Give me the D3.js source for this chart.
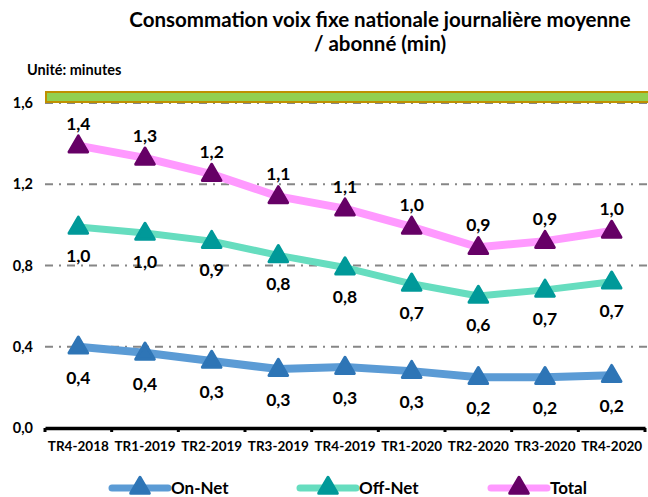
<!DOCTYPE html>
<html><head><meta charset="utf-8">
<script src="https://cdn.jsdelivr.net/npm/d3@7"></script>
<style>body{margin:0;background:#fff}svg{display:block}text{font-family:Lato,"Open Sans",sans-serif;font-weight:bold;fill:#000}</style>
</head><body>
<svg id="c" width="648" height="497"></svg>
<script>
const categories = ["TR4-2018","TR1-2019","TR2-2019","TR3-2019","TR4-2019","TR1-2020","TR2-2020","TR3-2020","TR4-2020"];
const onNet  = [0.40, 0.37, 0.33, 0.29, 0.30, 0.28, 0.25, 0.25, 0.26];
const offNet = [0.99, 0.96, 0.92, 0.85, 0.79, 0.71, 0.65, 0.68, 0.72];
const total  = [1.39, 1.33, 1.25, 1.14, 1.08, 0.99, 0.89, 0.92, 0.97];
const onNetLabels  = ["0,4","0,4","0,3","0,3","0,3","0,3","0,2","0,2","0,2"];
const offNetLabels = ["1,0","1,0","0,9","0,8","0,8","0,7","0,6","0,7","0,7"];
const totalLabels  = ["1,4","1,3","1,2","1,1","1,1","1,0","0,9","0,9","1,0"];
const yTicks = [0, 0.4, 0.8, 1.2, 1.6];
const yTickLabels = ["0,0","0,4","0,8","1,2","1,6"];

const svg = d3.select("#c");
const x = d3.scaleBand().domain(categories).range([45, 645]);
const y = d3.scaleLinear().domain([0, 1.6]).range([428, 103]);
const cx = c => x(c) + x.bandwidth()/2;

// title
svg.append("text").attr("x", 380).attr("y", 27).attr("text-anchor","middle").attr("font-size", 20.5)
  .text("Consommation voix fixe nationale journalière moyenne");
svg.append("text").attr("x", 380).attr("y", 51).attr("text-anchor","middle").attr("font-size", 20.5)
  .text("/ abonné (min)");
svg.append("text").attr("x", 27).attr("y", 75).attr("font-size", 14.5).text("Unité: minutes");

// gridlines
svg.append("g").selectAll("line").data(yTicks.filter(d => d > 0)).join("line")
  .attr("x1", 45).attr("x2", 648).attr("y1", d => y(d)).attr("y2", d => y(d))
  .attr("stroke", "#868686").attr("stroke-width", 1.8).attr("stroke-dasharray", "8,6,2,6");

// green band at top of plot
svg.append("rect").attr("x", 46).attr("y", y(1.6) - 11).attr("width", 610).attr("height", 10)
  .attr("fill", "#92D050").attr("stroke", "#BF9000").attr("stroke-width", 2);

// y tick labels
svg.append("g").selectAll("text").data(yTicks).join("text")
  .attr("x", 33).attr("y", d => y(d) + 5).attr("text-anchor", "end").attr("font-size", 14.5)
  .text((d,i) => yTickLabels[i]);

// x axis
const xAxis = d3.axisBottom(x).tickValues([]).tickSize(0).tickSizeOuter(0);
svg.append("g").attr("transform", "translate(0,428)").call(xAxis)
  .select(".domain").attr("stroke", "#000").attr("stroke-width", 3.5);
svg.append("g").selectAll("line").data(categories.concat(["end"])).join("line")
  .attr("x1", (d,i) => 45 + i*x.step()).attr("x2", (d,i) => 45 + i*x.step())
  .attr("y1", 428).attr("y2", 432).attr("stroke", "#000").attr("stroke-width", 3);
svg.append("g").selectAll("text").data(categories).join("text")
  .attr("x", d => cx(d)).attr("y", 451).attr("text-anchor", "middle").attr("font-size", 13.5)
  .text(d => d);

const tri = d3.symbol().type(d3.symbolTriangle).size(150);
const series = [
  {name:"On-Net", vals:onNet, labels:onNetLabels, line:"#5B9BD5", mark:"#2E75B6", w:8, dy:37},
  {name:"Off-Net", vals:offNet, labels:offNetLabels, line:"#66DDBF", mark:"#009999", w:7, dy:35},
  {name:"Total", vals:total, labels:totalLabels, line:"#FF99FF", mark:"#660066", w:8, dy:-16}
];
const lineGen = d3.line().x((d,i) => cx(categories[i])).y(d => y(d));
series.forEach(s => {
  svg.append("path").attr("d", lineGen(s.vals)).attr("fill","none")
    .attr("stroke", s.line).attr("stroke-width", s.w).attr("stroke-linejoin","round");
});
series.forEach(s => {
  svg.append("g").selectAll("path").data(s.vals).join("path")
    .attr("d", tri).attr("transform", (d,i) => `translate(${cx(categories[i])},${y(d)+1})`)
    .attr("fill", s.mark).attr("stroke", s.mark).attr("stroke-width", 3).attr("stroke-linejoin","round");
  svg.append("g").selectAll("text").data(s.vals).join("text")
    .attr("x", (d,i) => cx(categories[i])).attr("y", d => y(d) + s.dy)
    .attr("text-anchor","middle").attr("font-size", 17.5).text((d,i) => s.labels[i]);
});

// legend
const legendX = [112, 300, 491];
series.forEach((s, i) => {
  const g = svg.append("g").attr("transform", `translate(${legendX[i]},488)`);
  g.append("line").attr("x1", 0).attr("x2", 56).attr("y1", 0).attr("y2", 0)
    .attr("stroke", s.line).attr("stroke-width", 7).attr("stroke-linecap","round");
  g.append("path").attr("d", tri).attr("transform", "translate(28,0)")
    .attr("fill", s.mark).attr("stroke", s.mark).attr("stroke-width", 3).attr("stroke-linejoin","round");
  g.append("text").attr("x", 59).attr("y", 6).attr("font-size", 17).text(s.name);
});
</script>
</body></html>
